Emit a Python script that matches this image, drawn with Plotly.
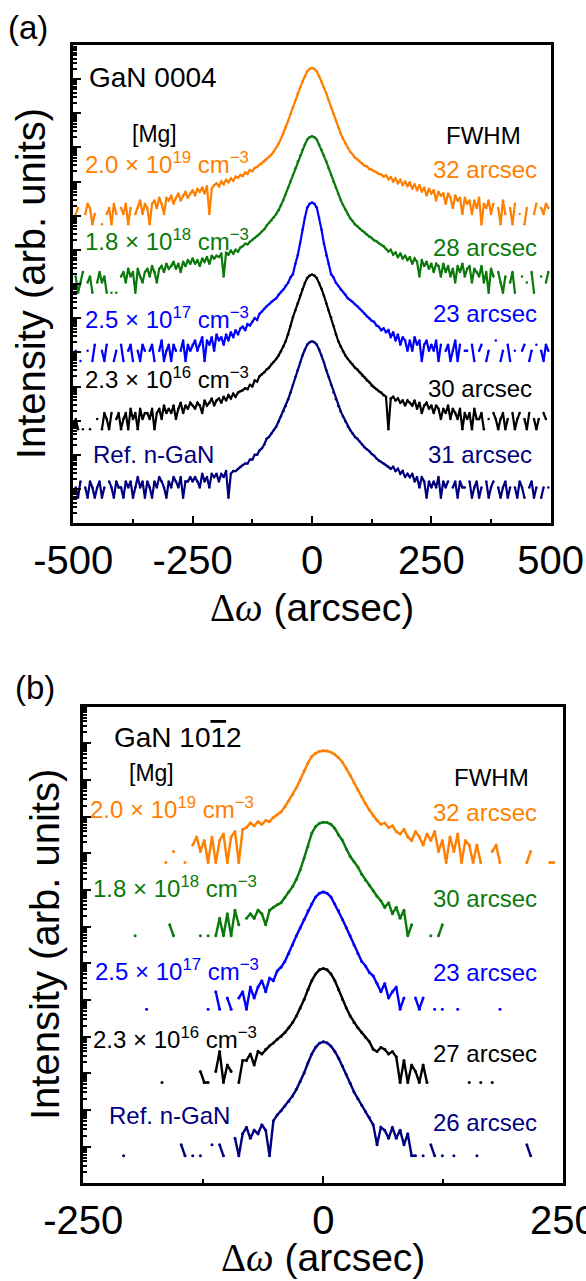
import plotly.graph_objects as go

W, H = 586, 1281
FONT = "Liberation Sans"

# ---------------- data ----------------
# Δω sampling grids (arcsec)
X_A = list(range(-495, 500, 5))   # panel (a), GaN 0004
X_B = list(range(-240, 244, 4))   # panel (b), GaN 10-12

SAMPLES = [
    "2.0 × 10<sup>19</sup> cm<sup>−3</sup>",
    "1.8 × 10<sup>18</sup> cm<sup>−3</sup>",
    "2.5 × 10<sup>17</sup> cm<sup>−3</sup>",
    "2.3 × 10<sup>16</sup> cm<sup>−3</sup>",
    "Ref. n-GaN",
]
FWHM_A = ["32 arcsec", "28 arcsec", "23 arcsec", "30 arcsec", "31 arcsec"]
FWHM_B = ["32 arcsec", "30 arcsec", "23 arcsec", "27 arcsec", "26 arcsec"]
COLORS = ["#FF7F00", "#0A7A0A", "#0000FF", "#000000", "#00007F"]
OFFSET_DECADES = [8.75, 6.75, 4.75, 2.75, 0.75]   # vertical stacking of curves

TICKS_A = [-500, -250, 0, 250, 500]
TICKTEXT_A = ["-500", "-250", "0", "250", "500"]
TICKS_B = [-250, 0, 250]
TICKTEXT_B = ["-250", "0", "250"]

# counts (0 = no counts -> gap on log axis); panel (a), x = X_A
A_ORANGE = [
    2, 3, 0, 0, 2, 4, 3, 1, 2, 0,
    0, 1, 0, 2, 3, 1, 4, 2, 0, 3,
    2, 4, 1, 3, 0, 2, 3, 5, 2, 4,
    3, 1, 4, 5, 3, 6, 4, 2, 6, 5,
    7, 4, 6, 8, 5, 7, 9, 6, 8, 10,
    7, 11, 9, 12, 8, 13, 2, 11, 14, 16,
    13, 18, 15, 20, 17, 22, 19, 25, 23, 28,
    26, 33, 30, 39, 36, 45, 48, 55, 60, 69,
    80, 92, 110, 136, 175, 230, 320, 460, 680, 1070,
    1700, 2700, 4260, 6800, 10200, 15100, 21400, 30200, 35500, 38000,
    35500, 30200, 21400, 15100, 10200, 6800, 4260, 2700, 1700, 1070,
    680, 460, 320, 232, 172, 134, 112, 90, 80, 68,
    62, 52, 50, 42, 40, 36, 34, 30, 29, 25,
    27, 21, 24, 18, 22, 16, 20, 14, 18, 13,
    17, 11, 15, 10, 14, 9, 12, 7, 11, 8,
    10, 5, 9, 7, 8, 4, 8, 6, 3, 7,
    5, 6, 2, 6, 4, 5, 2, 5, 3, 6,
    1, 4, 3, 5, 2, 4, 0, 3, 1, 5,
    2, 0, 3, 1, 4, 0, 2, 0, 1, 3,
    0, 0, 2, 4, 0, 3, 2, 4, 3,
]
A_GREEN = [
    3, 1, 2, 4, 0, 2, 3, 1, 0, 2,
    4, 2, 3, 1, 0, 1, 0, 1, 0, 3,
    4, 2, 5, 3, 4, 1, 5, 3, 2, 4,
    5, 3, 6, 4, 2, 5, 6, 4, 7, 5,
    6, 8, 5, 7, 4, 8, 6, 9, 7, 10,
    7, 9, 6, 10, 8, 11, 7, 12, 10, 12,
    11, 14, 3, 15, 13, 17, 14, 18, 16, 21,
    23, 27, 26, 31, 35, 40, 46, 52, 62, 72,
    92, 110, 130, 160, 200, 260, 360, 520, 780, 1180,
    1800, 2800, 4400, 6900, 10300, 15200, 21500, 30300, 35600, 38000,
    35600, 30300, 21500, 15200, 10300, 6900, 4400, 2800, 1800, 1180,
    780, 520, 370, 270, 200, 150, 125, 100, 88, 74,
    65, 58, 50, 44, 40, 34, 32, 28, 25, 23,
    19, 16, 18, 13, 15, 11, 14, 10, 12, 9,
    11, 7, 10, 8, 3, 9, 6, 8, 5, 7,
    4, 7, 6, 3, 7, 4, 6, 3, 5, 2,
    6, 4, 7, 3, 5, 6, 2, 5, 4, 3,
    6, 2, 4, 1, 5, 3, 0, 4, 2, 1,
    3, 0, 2, 4, 1, 0, 0, 3, 0, 2,
    0, 4, 1, 0, 0, 3, 0, 2, 4,
]
A_BLUE = [
    2, 0, 1, 0, 0, 2, 0, 1, 3, 0,
    0, 2, 1, 3, 0, 0, 1, 2, 0, 3,
    1, 0, 2, 3, 1, 0, 2, 1, 3, 2,
    0, 2, 3, 1, 0, 2, 4, 1, 2, 3,
    1, 3, 2, 0, 2, 4, 1, 3, 2, 3,
    4, 2, 3, 5, 1, 4, 3, 5, 2, 6,
    4, 5, 3, 6, 4, 7, 5, 8, 6, 9,
    10, 8, 12, 11, 14, 18, 16, 24, 28, 34,
    40, 46, 54, 61, 69, 88, 105, 123, 160, 195,
    280, 346, 690, 1230, 2750, 6900, 15500, 30900, 39800, 43600,
    39800, 30900, 15500, 6900, 2750, 1230, 690, 346, 280, 195,
    160, 123, 105, 88, 69, 61, 54, 46, 40, 34,
    29, 24, 20, 18, 15, 14, 11, 10, 8, 9,
    7, 8, 5, 7, 4, 6, 3, 5, 4, 2,
    4, 2, 5, 3, 4, 1, 3, 4, 2, 3,
    2, 4, 1, 3, 0, 2, 3, 1, 2, 4,
    1, 3, 0, 2, 2, 0, 3, 1, 0, 2,
    3, 0, 1, 2, 0, 0, 4, 0, 1, 2,
    0, 3, 1, 0, 2, 0, 0, 2, 3, 0,
    1, 2, 0, 3, 0, 2, 1, 3, 2,
]
A_BLACK = [
    2, 1, 0, 1, 0, 0, 1, 0, 0, 2,
    0, 1, 3, 2, 1, 3, 0, 2, 3, 1,
    2, 3, 1, 4, 2, 3, 1, 4, 2, 3,
    3, 2, 4, 1, 3, 4, 2, 5, 3, 4,
    3, 5, 2, 4, 6, 3, 5, 4, 6, 5,
    4, 6, 5, 3, 7, 5, 6, 8, 5, 7,
    8, 6, 9, 7, 10, 8, 11, 9, 12, 13,
    14, 16, 15, 20, 18, 27, 25, 36, 40, 47,
    56, 64, 80, 93, 115, 144, 190, 269, 380, 600,
    1070, 1910, 3020, 4790, 8150, 12900, 19100, 26900, 31600, 33900,
    31600, 26900, 19100, 12900, 8150, 4790, 3020, 1910, 1070, 600,
    380, 269, 190, 144, 115, 93, 80, 64, 56, 47,
    38, 33, 27, 24, 19, 17, 15, 13, 12, 10,
    9, 1, 8, 9, 7, 8, 6, 7, 5, 7,
    6, 5, 7, 4, 6, 3, 5, 6, 4, 5,
    3, 5, 4, 2, 4, 3, 5, 2, 4, 3,
    2, 4, 1, 3, 2, 3, 1, 4, 2, 2,
    3, 1, 0, 2, 0, 3, 2, 1, 2, 3,
    1, 2, 0, 3, 1, 2, 3, 0, 2, 1,
    3, 0, 2, 1, 2, 0, 3, 2, 0,
]
A_NAVY = [
    2, 1, 3, 0, 2, 1, 3, 2, 1, 2,
    3, 1, 2, 0, 3, 2, 1, 3, 2, 2,
    1, 3, 2, 3, 1, 2, 4, 2, 3, 1,
    3, 2, 1, 3, 2, 4, 3, 2, 1, 3,
    2, 4, 3, 2, 4, 1, 3, 3, 4, 3,
    4, 3, 2, 5, 3, 4, 2, 5, 4, 5,
    3, 5, 4, 6, 1, 5, 6, 6, 7, 8,
    9, 10, 10, 13, 13, 18, 18, 24, 28, 36,
    53, 60, 76, 95, 120, 170, 240, 340, 480, 760,
    1200, 2000, 3380, 5350, 9100, 14400, 21400, 30200, 35500, 38000,
    35500, 30200, 21400, 14400, 9100, 5350, 3380, 2000, 1200, 760,
    480, 340, 240, 170, 120, 95, 76, 60, 53, 43,
    36, 30, 26, 23, 19, 17, 14, 12, 11, 10,
    9, 8, 7, 8, 6, 7, 5, 6, 4, 5,
    4, 5, 3, 4, 2, 4, 3, 1, 3, 2,
    3, 2, 4, 1, 3, 2, 3, 0, 2, 3,
    1, 3, 2, 2, 0, 3, 1, 2, 3, 1,
    2, 0, 3, 1, 2, 3, 0, 2, 1, 2,
    3, 1, 2, 0, 2, 1, 3, 2, 1, 0,
    2, 3, 1, 2, 0, 1, 2, 0, 2,
]

# panel (b), x = X_B
B_ORANGE = [
    0, 0, 0, 0, 0, 0, 0, 0, 0, 0,
    0, 0, 0, 0, 0, 0, 0, 0, 0, 1,
    0, 2, 0, 0, 1, 0, 3, 5, 2, 4,
    1, 5, 1, 4, 6, 1, 5, 7, 1, 8,
    9, 12, 10, 13, 11, 14, 13, 17, 20, 24,
    33, 48, 71, 110, 180, 320, 520, 780, 960, 1080,
    1120, 1100, 1020, 880, 720, 540, 370, 240, 150, 95,
    62, 40, 27, 19, 14, 11, 12, 9, 10, 7,
    6, 8, 5, 4, 7, 5, 3, 6, 4, 7,
    2, 4, 1, 5, 2, 6, 1, 4, 3, 1,
    3, 1, 0, 0, 2, 3, 1, 0, 0, 0,
    0, 0, 0, 1, 2, 0, 0, 0, 0, 1,
    1,
]
B_GREEN = [
    0, 0, 0, 0, 0, 0, 0, 0, 0, 0,
    0, 1, 0, 0, 0, 0, 0, 0, 0, 0,
    2, 1, 0, 0, 0, 0, 0, 0, 1, 0,
    1, 0, 1, 3, 1, 4, 1, 5, 2, 0,
    3, 4, 3, 5, 4, 2, 5, 6, 7, 8,
    11, 16, 22, 35, 63, 132, 275, 630, 960, 1170,
    1260, 1230, 1100, 850, 560, 400, 235, 148, 105, 76,
    48, 33, 24, 17, 12, 9, 6, 8, 4, 6,
    3, 5, 1, 2, 0, 0, 0, 0, 1, 0,
    1, 2, 0, 0, 0, 0, 0, 0, 0, 0,
    0, 0, 0, 0, 0, 0, 0, 0, 0, 0,
    0, 0, 0, 0, 0, 0, 0, 0, 0, 0,
    0,
]
B_BLUE = [
    0, 0, 0, 0, 0, 0, 0, 0, 0, 0,
    0, 0, 0, 0, 1, 0, 0, 0, 0, 0,
    0, 0, 0, 0, 0, 0, 0, 0, 0, 0,
    1, 0, 3, 1, 0, 2, 1, 0, 2, 3,
    1, 4, 2, 4, 6, 3, 7, 6, 11, 14,
    20, 33, 56, 100, 166, 280, 480, 740, 1150, 1440,
    1580, 1440, 1150, 740, 480, 280, 166, 100, 56, 33,
    20, 15, 10, 8, 5, 3, 5, 2, 3, 4,
    1, 2, 0, 0, 2, 1, 2, 0, 0, 1,
    0, 1, 0, 0, 0, 1, 0, 0, 0, 0,
    0, 0, 0, 0, 0, 0, 1, 0, 0, 0,
    0, 0, 0, 0, 0, 0, 0, 0, 0, 0,
    0,
]
B_BLACK = [
    0, 0, 0, 0, 0, 0, 0, 0, 0, 0,
    0, 0, 0, 0, 0, 0, 0, 0, 1, 0,
    0, 0, 0, 0, 0, 0, 0, 0, 2, 1,
    1, 0, 2, 7, 1, 3, 2, 0, 1, 4,
    4, 6, 3, 7, 6, 8, 10, 12, 15, 18,
    23, 31, 43, 65, 107, 182, 340, 600, 910, 1180,
    1290, 1180, 910, 600, 340, 182, 107, 65, 43, 31,
    23, 17, 13, 8, 7, 9, 8, 6, 7, 5,
    1, 4, 1, 3, 2, 1, 3, 1, 0, 0,
    0, 0, 0, 0, 0, 0, 0, 0, 1, 0,
    0, 1, 0, 0, 1, 0, 0, 0, 0, 0,
    0, 0, 0, 0, 0, 0, 0, 0, 0, 0,
    0,
]
B_NAVY = [
    0, 0, 0, 0, 0, 0, 0, 0, 1, 0,
    0, 0, 0, 0, 0, 0, 0, 0, 0, 0,
    0, 0, 0, 2, 1, 0, 1, 0, 1, 0,
    0, 2, 0, 2, 1, 0, 0, 3, 1, 4,
    6, 3, 5, 4, 7, 5, 1, 9, 13, 17,
    23, 31, 43, 65, 107, 182, 340, 600, 910, 1180,
    1290, 1200, 980, 700, 460, 280, 165, 95, 55, 36,
    24, 16, 11, 7, 2, 6, 5, 3, 6, 3,
    5, 2, 4, 1, 1, 0, 1, 0, 2, 1,
    0, 1, 0, 0, 1, 0, 0, 0, 0, 0,
    1, 0, 0, 0, 0, 0, 0, 0, 0, 0,
    0, 0, 0, 2, 1, 0, 0, 0, 0, 0,
    0,
]

PANEL_A = [A_ORANGE, A_GREEN, A_BLUE, A_BLACK, A_NAVY]
PANEL_B = [B_ORANGE, B_GREEN, B_BLUE, B_BLACK, B_NAVY]


# ---------------- figure ----------------
def shifted(counts, dec):
    f = 10 ** dec
    return [c * f if c > 0 else None for c in counts]


def px(x, y):
    return x / W, 1 - y / H


fig = go.Figure()
for counts, col, off in zip(PANEL_A, COLORS, OFFSET_DECADES):
    fig.add_trace(go.Scatter(x=X_A[:len(counts)], y=shifted(counts, off), mode="lines+markers",
                             line=dict(color=col, width=2.2), marker=dict(color=col, size=2.5),
                             xaxis="x", yaxis="y", showlegend=False, connectgaps=False))
for counts, col, off in zip(PANEL_B, COLORS, OFFSET_DECADES):
    fig.add_trace(go.Scatter(x=X_B[:len(counts)], y=shifted(counts, off), mode="lines+markers",
                             line=dict(color=col, width=2.4), marker=dict(color=col, size=3),
                             xaxis="x2", yaxis="y2", showlegend=False, connectgaps=False))

# frame geometry (pixels)
A_L, A_R, A_T, A_B = 73.3, 550.7, 45.0, 523.3
B_L, B_R, B_T, B_B = 83.3, 563.3, 706.7, 1183.3


def xaxis(dom, anchor, rng, vals, text, minor_vals):
    return dict(domain=dom, anchor=anchor, range=rng, tickmode="array", tickvals=vals, ticktext=text,
                ticks="inside", ticklen=8, tickwidth=2, tickcolor="black",
                minor=dict(tickmode="array", tickvals=minor_vals, ticks="inside", ticklen=5,
                           tickwidth=2, tickcolor="black", showgrid=False),
                showline=True, linewidth=2.5, linecolor="black", mirror=True,
                showgrid=False, zeroline=False, automargin=False, ticklabelstandoff=0,
                ticklabeloverflow="allow",
                tickfont=dict(family=FONT, size=40, color="black"))


def yaxis(dom, anchor, rng):
    return dict(domain=dom, anchor=anchor, type="log", range=rng, dtick=1,
                ticks="inside", ticklen=8, tickwidth=2, tickcolor="black", showticklabels=False,
                minor=dict(ticks="inside", ticklen=4, tickwidth=1.5, tickcolor="black",
                           dtick="D1", showgrid=False),
                showline=True, linewidth=2.5, linecolor="black", mirror=True,
                showgrid=False, zeroline=False, automargin=False)


fig.update_layout(
    width=W, height=H, margin=dict(l=0, r=0, t=0, b=0),
    paper_bgcolor="white", plot_bgcolor="white",
    font=dict(family=FONT, color="black"),
    xaxis=xaxis([A_L / W, A_R / W], "y", [-500, 500], TICKS_A, TICKTEXT_A, [-375, -125, 125, 375]),
    yaxis=yaxis([1 - A_B / H, 1 - A_T / H], "x", [0, 14]),
    xaxis2=xaxis([B_L / W, B_R / W], "y2", [-250, 250], TICKS_B, TICKTEXT_B, [-125, 125]),
    yaxis2=yaxis([1 - B_B / H, 1 - B_T / H], "x2", [0, 13]),
)

anns = []


def ann(x, y, text, size, color="black", xanchor="left", angle=0):
    xp, yp = px(x, y)
    anns.append(dict(x=xp, y=yp, xref="paper", yref="paper", text=text, showarrow=False,
                     xanchor=xanchor, yanchor="middle", textangle=angle,
                     font=dict(family=FONT, size=size, color=color)))


# panel labels and axis titles
ann(28, 27, "(a)", 33, xanchor="center")
ann(35, 687, "(b)", 33, xanchor="center")
XT = "<span style='font-family:Liberation Serif'>Δ<i>ω</i></span> (arcsec)"
ann((A_L + A_R) / 2, 607, XT, 39, xanchor="center")
ann((B_L + B_R) / 2, 1257, XT, 39, xanchor="center")
ann(31, (A_T + A_B) / 2, "Intensity (arb. units)", 40, xanchor="center", angle=-90)
ann(45, (B_T + B_B) / 2, "Intensity (arb. units)", 40, xanchor="center", angle=-90)

# panel (a) texts
ann(87, 78, "GaN 0004", 28)
ann(154, 134, "[Mg]", 23, xanchor="center")
ann(483, 135, "FWHM", 24, xanchor="center")
for lab, fw, col, ly, ry, lx in zip(SAMPLES, FWHM_A, COLORS,
                                    [163, 240, 318, 378, 455],
                                    [169, 247, 313, 388, 455],
                                    [83, 83, 83, 83, 91]):
    ann(lx, ly, lab, 24, col)
    ann(539 if ry < 350 else 534, ry, fw, 24, col, xanchor="right")

# panel (b) texts
ann(112, 737, "GaN 10<span style='text-decoration:overline'>1</span>2", 28)
ann(152, 773, "[Mg]", 23, xanchor="center")
ann(492, 777, "FWHM", 24, xanchor="center")
for lab, fw, col, ly, ry, lx in zip(SAMPLES, FWHM_B, COLORS,
                                    [808, 887, 970, 1038, 1115],
                                    [812, 898, 973, 1053, 1122],
                                    [88, 91, 93, 91, 107]):
    ann(lx, ly, lab, 24, col)
    ann(539, ry, fw, 24, col, xanchor="right")

fig.update_layout(annotations=anns)
fig.write_html("out.html")
